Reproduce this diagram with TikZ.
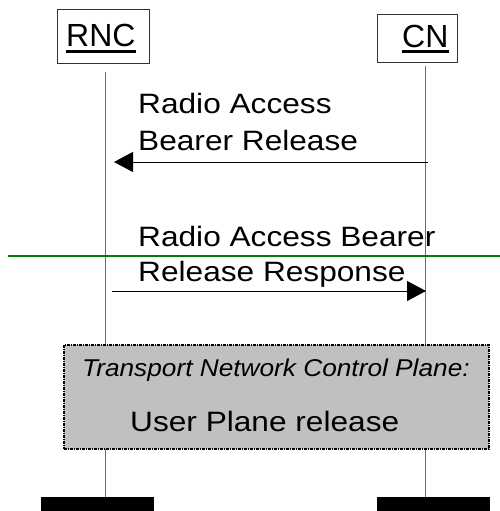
\documentclass[tikz,border=0pt]{standalone}
\usepackage{fontspec}
\setmainfont{Liberation Sans}
\usetikzlibrary{arrows.meta}
\definecolor{boxgray}{RGB}{192,192,192}
\definecolor{linegreen}{RGB}{0,128,0}
\definecolor{lifegray}{RGB}{110,110,110}
\tikzset{
  head/.style={draw=black!80, line width=0.9pt, fill=white, inner sep=0pt},
  headlbl/.style={anchor=base west, inner sep=0pt, font=\fontsize{32}{38}\selectfont},
  msglbl/.style={anchor=base west, inner sep=0pt, font=\fontsize{28}{35}\selectfont},
  boxlbl/.style={anchor=base west, inner sep=0pt, font=\fontsize{24.3}{30}\selectfont\itshape},
  lifeline/.style={draw=lifegray, line width=1pt},
  msg/.style={draw=black, line width=1pt, -{Triangle[length=19pt,width=20pt]}},
  bar/.style={fill=black, inner sep=0pt},
  procbox/.style={draw=black, line width=1.5pt, dash pattern=on 3pt off 1pt on 1pt off 1pt, fill=boxgray, inner sep=0pt},
}
\begin{document}
\begin{tikzpicture}[x=1pt,y=-1pt]
\useasboundingbox (0,0) rectangle (500,511);
% heads
\node[head, minimum width=92pt, minimum height=54pt] (rnc) at (103,36) {};
\node[head, minimum width=80pt, minimum height=48pt] (cn) at (417,38) {};
\node[headlbl] (rnclbl) at (66,46.7) {RNC};
\node[headlbl] (cnlbl) at (402,47.7) {CN};
\draw[line width=2.5pt] ([yshift=-5pt]rnclbl.base west) -- ([yshift=-5pt]rnclbl.base east);
\draw[line width=2.5pt] ([yshift=-4pt]cnlbl.base west) -- ([yshift=-4pt]cnlbl.base east);
% bottom bars
\node[bar, minimum width=113pt, minimum height=14pt] (rncbar) at (97.5,504) {};
\node[bar, minimum width=113pt, minimum height=14pt] (cnbar) at (433.5,504) {};
% lifelines
\coordinate (rtop) at (105,72);
\coordinate (ctop) at (425,66);
\draw[lifeline] (rtop) -- (rtop |- rncbar.north);
\draw[lifeline] (ctop) -- (ctop |- cnbar.north);
% green line
\coordinate (gl) at (8,256);
\coordinate (gr) at (500,256);
\draw[draw=linegreen, line width=2.2pt] (gl) -- (gr);
% message 1
\node[msglbl] (m1a) at (138,113.3) {\scalebox{1.13}[1]{Radio Access}};
\node[msglbl] (m1b) at (138,150.7) {\scalebox{1.13}[1]{Bearer Release}};
\coordinate (a1s) at (428,162);
\coordinate (a1e) at (114,162);
\draw[msg] (a1s) -- (a1e);
% message 2
\node[msglbl] (m2a) at (138,246.7) {\scalebox{1.13}[1]{Radio Access Bearer}};
\node[msglbl] (m2b) at (138,281.7) {\scalebox{1.13}[1]{Release Response}};
\coordinate (a2s) at (112,291);
\coordinate (a2e) at (426,291);
\draw[msg] (a2s) -- (a2e);
% procedure box
\node[procbox, minimum width=425pt, minimum height=104pt] (tncp) at (276.5,397) {};
\node[boxlbl] (tncpa) at (82,376.7) {\scalebox{1.08}[1]{Transport Network Control Plane:}};
\node[msglbl] (tncpb) at (130,431.7) {\scalebox{1.13}[1]{User Plane release}};
\end{tikzpicture}
\end{document}
